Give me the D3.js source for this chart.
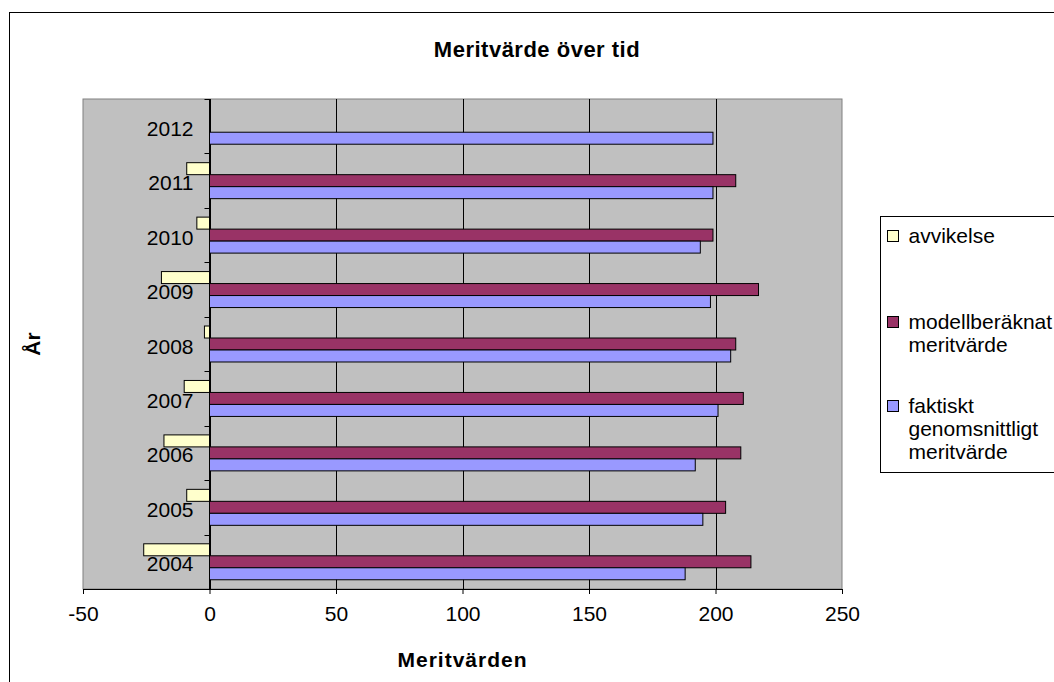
<!DOCTYPE html>
<html>
<head>
<script src="https://cdn.jsdelivr.net/npm/d3@7"></script>
<meta charset="utf-8">
<title>Meritvärde över tid</title>
<style>
    body { margin: 0; background: #fff; }
    text { font-family: "Liberation Sans", Arial, sans-serif; fill: #000; }
</style>
</head>
<body>
<svg width="1054" height="682" id="mainsvg"></svg>
<script>
    // data
    let years = ["2004", "2005", "2006", "2007", "2008", "2009", "2010", "2011", "2012"];
    let faktiskt = [188, 195, 192, 201, 206, 198, 194, 199, 199];
    let modell = [214, 204, 210, 211, 208, 217, 199, 208, null];
    let avvikelse = [-26, -9, -18, -10, -2, -19, -5, -9, null];
    let xTicks = [-50, 0, 50, 100, 150, 200, 250];

    let seriesNames = ["avvikelse", "modellberäknat meritvärde", "faktiskt genomsnittligt meritvärde"];
    let seriesColors = ["#FFFFCC", "#993366", "#9999FF"];
    let seriesValues = [avvikelse, modell, faktiskt];

    let mainsvg = d3.select('#mainsvg');

    // chart area border (runs off the picture right and bottom)
    mainsvg.append('rect')
        .attr('x', 9.5).attr('y', 12.5)
        .attr('width', 1100).attr('height', 700)
        .style('fill', 'white').style('stroke', 'black');

    let plot = {left: 83, right: 842, top: 99, bottom: 589};

    let x = d3.scaleLinear().domain([-50, 250]).range([plot.left, plot.right]);
    // 2012 on top
    let y = d3.scaleBand().domain(years.slice().reverse()).range([plot.top, plot.bottom]);
    let ySub = d3.scaleBand().domain(seriesNames).range([0, y.bandwidth()])
        .paddingInner(0).paddingOuter(0.77);

    let maingroup = mainsvg.append('g');

    maingroup.append('rect')
        .attr('x', plot.left).attr('y', plot.top)
        .attr('width', plot.right - plot.left).attr('height', plot.bottom - plot.top)
        .style('fill', '#C0C0C0').style('stroke', '#808080');

    // vertical gridlines
    maingroup.selectAll('.grid')
        .data(xTicks.filter(d => d > -50 && d < 250))
        .enter().append('line')
        .attr('class', 'grid')
        .attr('x1', d => Math.round(x(d)) + 0.5).attr('x2', d => Math.round(x(d)) + 0.5)
        .attr('y1', plot.top).attr('y2', plot.bottom)
        .style('stroke', 'black');

    // bars
    seriesNames.forEach(function(name, i){
        let vals = seriesValues[i];
        maingroup.selectAll('.bar' + i)
            .data(years.map((yr, j) => ({year: yr, value: vals[j]})).filter(d => d.value != null))
            .enter().append('rect')
            .attr('class', 'bar' + i)
            .attr('x', d => x(Math.min(0, d.value)))
            .attr('y', d => y(d.year) + ySub(name))
            .attr('width', d => Math.abs(x(d.value) - x(0)))
            .attr('height', ySub.bandwidth())
            .style('fill', seriesColors[i])
            .style('stroke', 'black')
            .style('stroke-width', 1);
    });

    // value axis at bottom
    let xAxis = d3.axisBottom(x).tickValues(xTicks).tickFormat(d => String(d))
        .tickSizeInner(5).tickSizeOuter(0).tickPadding(12);
    let gx = maingroup.append('g')
        .attr('transform', `translate(0,${plot.bottom})`)
        .call(xAxis);
    gx.selectAll('text').style('font-size', '21px')
        .style('font-family', '"Liberation Sans", Arial, sans-serif').attr('fill', 'black');
    gx.selectAll('line, path').style('stroke', 'black');

    // category axis sits at value 0
    let yAxisLine = maingroup.append('g');
    yAxisLine.append('line')
        .attr('x1', x(0)).attr('x2', x(0))
        .attr('y1', plot.top).attr('y2', plot.bottom)
        .style('stroke', 'black');
    let bounds = years.map(d => y(d)).concat([plot.bottom]);
    yAxisLine.selectAll('.ytick')
        .data(bounds)
        .enter().append('line')
        .attr('class', 'ytick')
        .attr('x1', x(0) - 5).attr('x2', x(0))
        .attr('y1', d => Math.round(d) + 0.5).attr('y2', d => Math.round(d) + 0.5)
        .style('stroke', 'black');
    yAxisLine.selectAll('.ylabel')
        .data(years)
        .enter().append('text')
        .attr('class', 'ylabel')
        .attr('x', x(0) - 16)
        .attr('y', d => y(d) + y.bandwidth() / 2 + 9.5)
        .attr('text-anchor', 'end')
        .style('font-size', '21px')
        .text(d => d);

    // titles
    mainsvg.append('text')
        .attr('x', 537).attr('y', 57)
        .attr('text-anchor', 'middle')
        .style('font-size', '22px').style('font-weight', 'bold').style('letter-spacing', '0.5px')
        .text('Meritvärde över tid');
    mainsvg.append('text')
        .attr('x', (plot.left + plot.right) / 2).attr('y', 667)
        .attr('text-anchor', 'middle')
        .style('font-size', '21px').style('font-weight', 'bold').style('letter-spacing', '1px')
        .text('Meritvärden');
    mainsvg.append('text')
        .attr('transform', 'translate(40,344) rotate(-90)')
        .attr('text-anchor', 'middle')
        .style('font-size', '21px').style('font-weight', 'bold')
        .text('År');

    // legend (reversed order like the original)
    let legend = mainsvg.append('g').attr('transform', 'translate(880.5,216.5)');
    legend.append('rect')
        .attr('width', 200).attr('height', 256)
        .style('fill', 'white').style('stroke', 'black');
    let legendLines = [["avvikelse"], ["modellberäknat", "meritvärde"], ["faktiskt", "genomsnittligt", "meritvärde"]];
    let legendTop = [26, 112, 196];
    legendLines.forEach(function(lines, i){
        let item = legend.append('g').attr('transform', `translate(0,${legendTop[i]})`);
        item.append('rect')
            .attr('x', 7).attr('y', -12)
            .attr('width', 11).attr('height', 11)
            .style('fill', seriesColors[i]).style('stroke', 'black');
        item.selectAll('text')
            .data(lines)
            .enter().append('text')
            .attr('x', 28)
            .attr('y', (d, k) => k * 23)
            .style('font-size', '21px')
            .text(d => d);
    });
</script>
</body>
</html>
